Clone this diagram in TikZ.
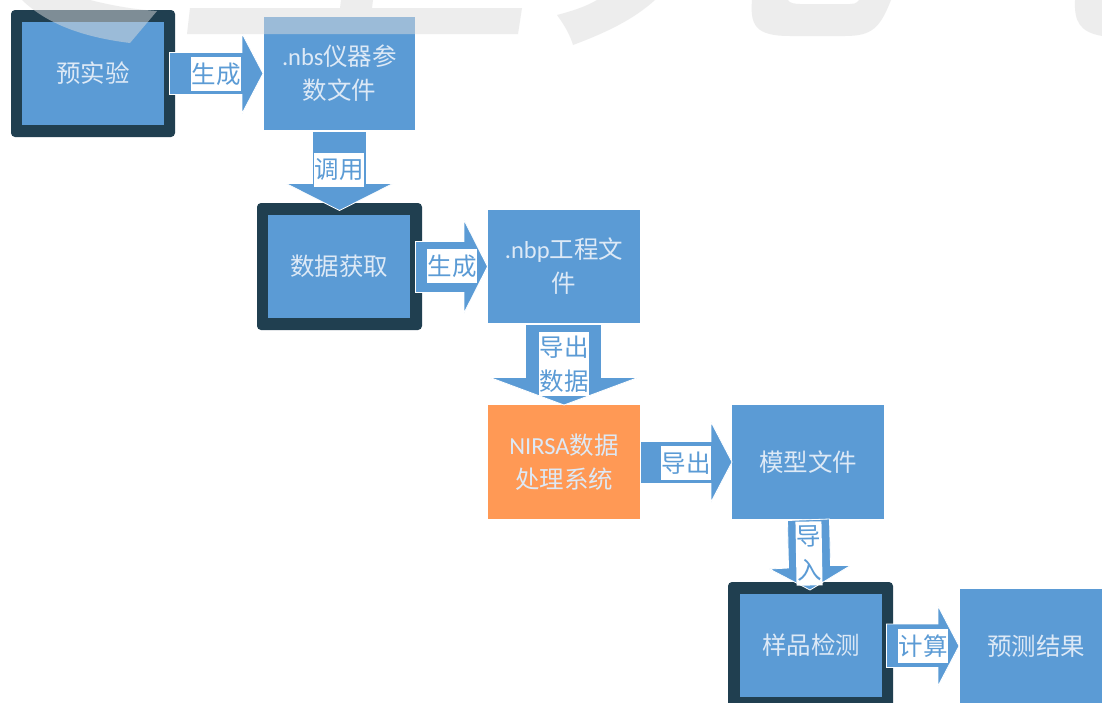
\documentclass[tikz,border=0pt]{standalone}
\usepackage{fontspec}
\setmainfont{Carlito}
\newfontfamily\cjk{Noto Sans CJK SC}
\newcommand{\zh}[1]{{\cjk #1}}
\definecolor{mainblue}{HTML}{5B9BD5}
\definecolor{darkframe}{HTML}{203F50}
\definecolor{orangebox}{HTML}{FF9955}
\definecolor{softtext}{HTML}{DDE9F6}
\definecolor{mark}{HTML}{DCDCDC}
\tikzset{
  bigfont/.style={font=\fontsize{24.5}{34}\selectfont},
  frame/.style={fill=darkframe,rounded corners=4pt,inner sep=0pt,draw=none},
  box/.style={fill=mainblue,draw=none,inner sep=0pt,text=softtext,align=center,bigfont},
  hotbox/.style={box,fill=orangebox},
  flow/.style={fill=mainblue,draw=white,line width=0.8pt,line join=miter},
  tag/.style={fill=white,text=mainblue,inner sep=0pt,align=center,bigfont},
  watermark/.style={fill=mark,fill opacity=0.5,draw=none}
}
\begin{document}
\begin{tikzpicture}[x=1pt,y=-1pt]
\clip[use as bounding box] (0,0) rectangle (1102,702);
\fill[white] (0,0) rectangle (1102,702);
% boxes
\node[frame,minimum width=164pt,minimum height=127pt] (f1) at (93,73.5) {};
\node[box,minimum width=142pt,minimum height=103pt] (pre) at (93,73.5) {\zh{预实验}};
\node[box,minimum width=151pt,minimum height=113pt] (nbs) at (339.5,73.5) {.nbs\zh{仪器参}\\\zh{数文件}};
\node[frame,minimum width=165pt,minimum height=127pt] (f2) at (339.5,266.5) {};
\node[box,minimum width=142pt,minimum height=103pt] (acq) at (339,266.5) {\zh{数据获取}};
\node[box,minimum width=152pt,minimum height=113pt] (nbp) at (564,266.5) {.nbp\zh{工程文}\\\zh{件}};
\node[hotbox,minimum width=152pt,minimum height=113.5pt] (nirsa) at (564,462) {NIRSA\zh{数据}\\\zh{处理系统}};
\node[box,minimum width=152pt,minimum height=114pt] (model) at (808,462) {\zh{模型文件}};
\node[frame,minimum width=165pt,minimum height=127pt] (f3) at (810.5,645.5) {};
\node[box,minimum width=142pt,minimum height=103pt] (det) at (811,645.5) {\zh{样品检测}};
\node[box,minimum width=152pt,minimum height=114pt] (res) at (1036,646) {\zh{预测结果}};
% block arrows
\draw[flow] (169.5,52.5) -- (242,52.5) -- (242,33.5) -- (263,73.5) -- (242,113.5) -- (242,94.5) -- (169.5,94.5) -- cycle;
\draw[flow] (312.5,131.5) -- (366.5,131.5) -- (366.5,183.5) -- (393,183.5) -- (339.5,210.5) -- (286,183.5) -- (312.5,183.5) -- cycle;
\draw[flow] (415.5,241.5) -- (464,241.5) -- (464,220) -- (487.5,266.5) -- (464,313) -- (464,292.5) -- (415.5,292.5) -- cycle;
\draw[flow] (525.5,324.5) -- (601.5,324.5) -- (601.5,377.5) -- (638,377.5) -- (564,405) -- (490,377.5) -- (525.5,377.5) -- cycle;
\draw[flow] (640.5,441.5) -- (711,441.5) -- (711,422) -- (732,462) -- (711,502) -- (711,483.5) -- (640.5,483.5) -- cycle;
\draw[flow] (787.5,520.5) -- (829.5,519) -- (830.5,565.5) -- (850.5,565.5) -- (810,590) -- (769.5,569) -- (788.5,568) -- cycle;
\draw[flow] (886.5,624) -- (938,624) -- (938,606) -- (959,646) -- (938,686) -- (938,667.5) -- (886.5,667.5) -- cycle;
% arrow labels
\node[tag,minimum width=50pt,minimum height=34pt] (t1) at (216,74) {\zh{生成}};
\node[tag,minimum width=50pt,minimum height=34pt] (t2) at (339,170) {\zh{调用}};
\node[tag,minimum width=50pt,minimum height=34pt] (t3) at (452,266) {\zh{生成}};
\node[tag,minimum width=50pt,minimum height=64pt] (t4) at (564,364) {\zh{导出}\\\zh{数据}};
\node[tag,minimum width=50pt,minimum height=34pt] (t5) at (686,463) {\zh{导出}};
\node[tag,minimum width=26pt,minimum height=64pt,rotate=1,text width=26pt] (t6) at (809,553.5) {\zh{导}\\\zh{入}};
\node[tag,minimum width=50pt,minimum height=34pt] (t7) at (923,646) {\zh{计算}};
% watermark
\fill[watermark] (22,0) .. controls (50,27) and (90,38) .. (130,43) -- (157,11) .. controls (130,9) and (110,5) .. (90,0) -- cycle;
\fill[watermark] (190,8) -- (340,8) -- (341,0) -- (373,0) -- (372,8) -- (522,8) -- (518,34) -- (187,34) -- cycle;
\fill[watermark] (557,15) .. controls (565,26) and (570,35) .. (573,45) .. controls (605,33) and (633,20) .. (655,0) -- (597,0) .. controls (585,7) and (572,11) .. (557,15) -- cycle;
\fill[watermark] (752,0) .. controls (750,25) and (755,36) .. (790,36) -- (845,36) .. controls (872,36) and (880,28) .. (891,0) -- (859,0) .. controls (856,4) and (853,4) .. (850,4) -- (800,4) .. controls (795,4) and (789,3) .. (788,0) -- cycle;
\fill[watermark] (1075,0) .. controls (1074,22) and (1080,32) .. (1102,36) -- (1102,0) -- cycle;
\end{tikzpicture}
\end{document}
